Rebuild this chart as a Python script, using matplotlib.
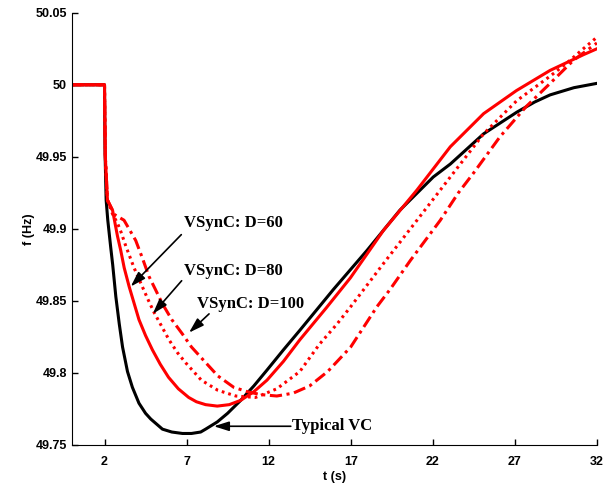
import numpy as np
import matplotlib
matplotlib.use("Agg")
import matplotlib.pyplot as plt

# typical virtual synchronous control
t_vc = [0, 2.0, 2.03, 2.1, 2.2, 2.38, 2.5, 2.69, 2.9, 3.1, 3.4, 3.7, 4.1, 4.5, 4.82,
        5.53, 6.1, 6.75, 7.3, 7.86, 8.16, 8.87, 9.5, 10.3, 11.1, 11.9, 12.9, 13.93,
        15.95, 17.99, 20.0, 22.03, 23.07, 25.1, 27.12, 28.2, 29.15, 30.6, 32]
f_vc = [50, 50, 49.955, 49.92, 49.906, 49.887, 49.875, 49.853, 49.834, 49.818, 49.801,
        49.79, 49.779, 49.772, 49.768, 49.761, 49.759, 49.758, 49.758, 49.759, 49.761,
        49.766, 49.772, 49.781, 49.791, 49.802, 49.816, 49.83, 49.858, 49.885, 49.913,
        49.936, 49.945, 49.966, 49.981, 49.988, 49.993, 49.998, 50.001]

# VSynC, D=60
t_60 = [0, 2.0, 2.05, 2.18, 2.49, 2.79, 2.99, 3.2, 3.5, 4.1, 4.5, 4.92, 5.4, 5.9, 6.5,
        7.13, 7.6, 8.16, 8.87, 9.6, 10.3, 11.1, 11.9, 12.9, 13.9, 15.5, 16.98, 19.0,
        21.04, 23.07, 25.1, 27.1, 29.15, 31.2, 32]
f_60 = [50, 50, 49.95, 49.92, 49.913, 49.895, 49.885, 49.873, 49.86, 49.837, 49.826,
        49.816, 49.806, 49.797, 49.789, 49.783, 49.78, 49.778, 49.777, 49.778, 49.781,
        49.787, 49.795, 49.808, 49.823, 49.845, 49.866, 49.899, 49.927, 49.957, 49.98,
        49.996, 50.01, 50.021, 50.025]

# VSynC, D=80
t_80 = [0, 2.0, 2.05, 2.18, 2.5, 2.79, 3.0, 3.3, 3.8, 4.3, 4.65, 5.02, 5.5, 5.93, 6.45,
        6.95, 7.9, 8.9, 10.0, 11.2, 12.5, 13.9, 15.1, 16.17, 17.0, 17.6, 19.0, 21.04,
        23.07, 25.1, 27.12, 29.15, 30.16, 31.17, 32]
f_80 = [50, 50, 49.95, 49.92, 49.91, 49.904, 49.898, 49.888, 49.873, 49.86, 49.851,
        49.842, 49.832, 49.823, 49.814, 49.807, 49.795, 49.788, 49.784, 49.783, 49.789,
        49.801, 49.82, 49.834, 49.846, 49.855, 49.876, 49.906, 49.936, 49.966, 49.989,
        50.006, 50.015, 50.025, 50.033]

# VSynC, D=100
t_100 = [0, 2.0, 2.05, 2.18, 2.6, 3.19, 3.9, 4.3, 4.71, 5.1, 5.53, 6.1, 6.75, 7.3,
         7.86, 8.9, 9.88, 10.7, 11.5, 12.5, 13.5, 14.5, 15.6, 17.0, 17.8, 18.6, 19.4,
         20.63, 22.46, 23.56, 24.5, 26.1, 27.7, 29.15, 30.57, 32]
f_100 = [50, 50, 49.95, 49.92, 49.91, 49.906, 49.892, 49.88, 49.867, 49.858, 49.848,
         49.837, 49.827, 49.818, 49.811, 49.798, 49.79, 49.787, 49.785, 49.784, 49.786,
         49.791, 49.801, 49.818, 49.832, 49.846, 49.858, 49.878, 49.906, 49.925, 49.939,
         49.964, 49.985, 50.001, 50.017, 50.029]

xticks = [2, 7, 12, 17, 22, 27, 32]
yticks = [49.75, 49.8, 49.85, 49.9, 49.95, 50, 50.05]

fig = plt.figure(figsize=(6.1, 4.91), dpi=100)
ax = fig.add_axes([0.1175, 0.0937, 0.861, 0.8803])

lw = 2.2
ax.plot(t_vc, f_vc, color='k', lw=lw)
ax.plot(t_60, f_60, color='red', lw=lw)
ax.plot(t_80, f_80, color='red', lw=lw, ls=(0, (0.9, 1.3)))
ax.plot(t_100, f_100, color='red', lw=lw, ls=(0, (4, 1.5, 1, 1.5)))

ax.set_xlim(0, 32)
ax.set_ylim(49.75, 50.05)
ax.set_xticks(xticks)
ax.set_yticks(yticks)
ax.set_yticklabels(['%g' % v for v in yticks])
ax.spines['top'].set_visible(False)
ax.spines['right'].set_visible(False)
ax.tick_params(direction='in', length=4, width=1)
for lab in ax.get_xticklabels() + ax.get_yticklabels():
    lab.set_fontfamily('Liberation Sans')
    lab.set_fontweight('bold')
    lab.set_fontsize(9)
ax.tick_params(axis='x', pad=8)

ax.set_xlabel('t (s)', fontfamily='Liberation Sans', fontweight='bold', fontsize=9, labelpad=2)
ax.set_ylabel('f (Hz)', fontfamily='Liberation Sans', fontweight='bold', fontsize=9, labelpad=0)

aprops = dict(arrowstyle='-|>,head_length=0.7,head_width=0.22', color='k', lw=1.2,
              mutation_scale=13, shrinkA=0, shrinkB=0)
tfont = dict(fontfamily='Liberation Serif', fontweight='bold', fontsize=12)

ax.text(6.82, 49.904, 'VSynC: D=60', ha='left', va='center', **tfont)
ax.annotate('', xy=(3.6, 49.86), xytext=(6.68, 49.896), arrowprops=aprops)
ax.text(6.82, 49.871, 'VSynC: D=80', ha='left', va='center', **tfont)
ax.annotate('', xy=(4.94, 49.841), xytext=(6.7, 49.864), arrowprops=aprops)
ax.text(7.66, 49.848, 'VSynC: D=100', ha='left', va='center', **tfont)
ax.annotate('', xy=(7.15, 49.828), xytext=(8.37, 49.841), arrowprops=aprops)
ax.text(13.45, 49.763, 'Typical VC', ha='left', va='center', **tfont)
ax.annotate('', xy=(8.66, 49.763), xytext=(13.35, 49.763), arrowprops=aprops)

fig.savefig('out.png', dpi=100)
